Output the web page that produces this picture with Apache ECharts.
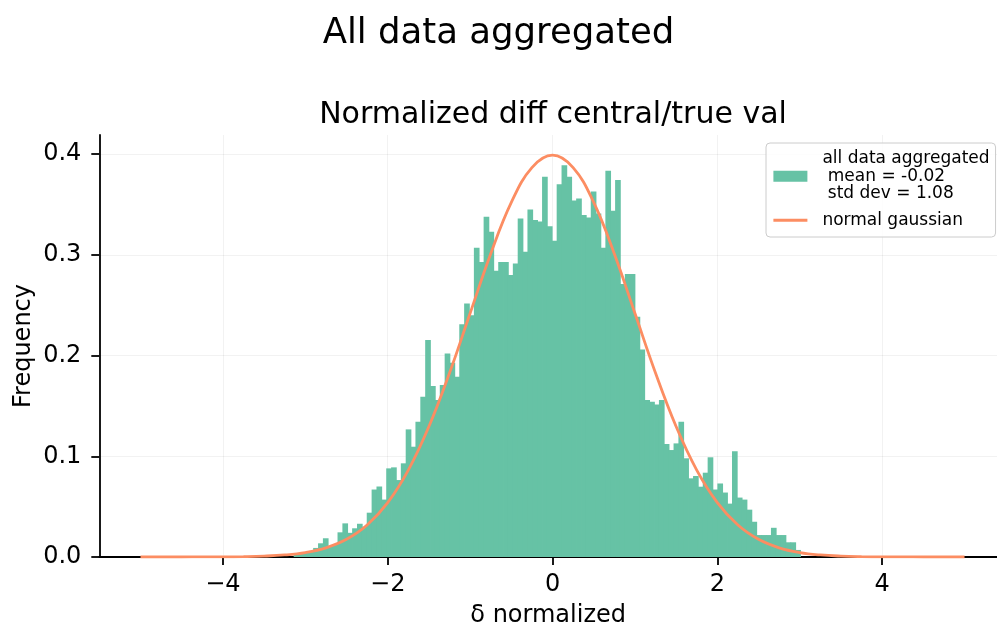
<!DOCTYPE html>
<html>
<head>
<meta charset="utf-8">
<script src="https://cdn.jsdelivr.net/npm/echarts@6/dist/echarts.min.js"></script>
<style>
html,body{margin:0;padding:0;background:#fff;overflow:hidden;width:997px;height:630px}
#chart{position:absolute;left:0;top:0;width:997px;height:630px}
</style>
</head>
<body>
<div id="chart"></div>
<script>
// ---- data ----
const binStart = -3.141;
const binWidth = 0.0591;
const freq = [
  0.002, 0.003, 0.004, 0.006, 0.009, 0.0136, 0.0186, 0.011, 0.012, 0.0245,
  0.0334, 0.024, 0.0285, 0.033, 0.030, 0.044, 0.067, 0.070, 0.057, 0.088,
  0.089, 0.0764, 0.093, 0.1267, 0.1095, 0.1343, 0.159, 0.2154, 0.1697, 0.1558,
  0.1707, 0.202, 0.1929, 0.179, 0.231, 0.2518, 0.240, 0.307, 0.293, 0.3378,
  0.3229, 0.2842, 0.293, 0.293, 0.280, 0.2915, 0.336, 0.303, 0.345, 0.3345,
  0.333, 0.3775, 0.3285, 0.314, 0.370, 0.389, 0.3775, 0.354, 0.356, 0.3395,
  0.337, 0.363, 0.341, 0.307, 0.3834, 0.3437, 0.3742, 0.271, 0.281, 0.281,
  0.2385, 0.2061, 0.1558, 0.1542, 0.1515, 0.1558, 0.1122, 0.1062, 0.1128, 0.1343,
  0.098, 0.0781, 0.0804, 0.0698, 0.0837, 0.099, 0.067, 0.073, 0.064, 0.053,
  0.105, 0.059, 0.057, 0.047, 0.035, 0.0218, 0.0218, 0.0218, 0.029, 0.0218,
  0.0218, 0.0146, 0.0146, 0.007
];
const gaussX = [-5, -4.75, -4.5, -4.25, -4, -3.75, -3.5, -3.25, -3, -2.75, -2.5, -2.25, -2, -1.75, -1.5, -1.25, -1, -0.75, -0.5, -0.25,
  0, 0.25, 0.5, 0.75, 1, 1.25, 1.5, 1.75, 2, 2.25, 2.5, 2.75, 3, 3.25, 3.5, 3.75, 4, 4.25, 4.5, 4.75, 5];
const gaussY = [0.0000015, 0.000005, 0.000016, 0.000047, 0.000134, 0.000353, 0.000873, 0.00203, 0.00443, 0.00909,
  0.01753, 0.03174, 0.05399, 0.08628, 0.12952, 0.18265, 0.24197, 0.30114, 0.35207, 0.38667,
  0.39894, 0.38667, 0.35207, 0.30114, 0.24197, 0.18265, 0.12952, 0.08628, 0.05399, 0.03174,
  0.01753, 0.00909, 0.00443, 0.00203, 0.000873, 0.000353, 0.000134, 0.000047, 0.000016, 0.000005, 0.0000015];
const xTicks = [-4, -2, 0, 2, 4];
const yTicks = [0, 0.1, 0.2, 0.3, 0.4];
const histName = 'all data aggregated\n mean = -0.02\n std dev = 1.08';
const lineName = 'normal gaussian';
const suptitle = 'All data aggregated';
const axTitle = 'Normalized diff central/true val';
const xName = 'δ normalized';
const yName = 'Frequency';

// ---- build ----
const FONT = 'DejaVu Sans';
const GREEN = '#66c2a5';
const ORANGE = '#fc8d62';

const histData = freq.map((f, i) => [binStart + i * binWidth, binStart + (i + 1) * binWidth, f]);
const gaussData = gaussX.map((x, i) => [x, gaussY[i]]);

const chart = echarts.init(document.getElementById('chart'), null, {renderer: 'canvas'});
chart.setOption({
  animation: false,
  backgroundColor: '#ffffff',
  textStyle: {fontFamily: FONT},
  title: [
    {text: suptitle, left: 'center', top: 8,
     textStyle: {fontFamily: FONT, fontSize: 35.5, fontWeight: 'normal', color: '#000', lineHeight: 42}},
    {text: axTitle, left: 548, textAlign: 'center', top: 93,
     textStyle: {fontFamily: FONT, fontSize: 30, fontWeight: 'normal', color: '#000', lineHeight: 35}}
  ],
  grid: {left: 99.3, top: 135, width: 897.7, height: 422, containLabel: false, outerBoundsMode: 'none'},
  xAxis: {
    type: 'value', min: -5.5, max: 5.394,
    name: xName, nameLocation: 'middle', nameGap: 47,
    nameTextStyle: {fontFamily: FONT, fontSize: 24, color: '#000'},
    axisLine: {onZero: false, lineStyle: {color: '#000', width: 1.8}},
    axisTick: {customValues: xTicks, length: 8, lineStyle: {color: '#000', width: 1.8}},
    axisLabel: {customValues: xTicks, fontFamily: FONT, fontSize: 24, color: '#000', margin: 16,
      formatter: v => (v < 0 ? '\u2212' + Math.abs(v) : String(v))},
    splitLine: {show: true, lineStyle: {color: 'rgba(0,0,0,0.05)', width: 1}}
  },
  yAxis: {
    type: 'value', min: 0, max: 0.419,
    name: yName, nameLocation: 'middle', nameGap: 64, nameRotate: 90, nameMoveOverlap: false,
    nameTextStyle: {fontFamily: FONT, fontSize: 24, color: '#000'},
    axisLine: {show: true, onZero: false, lineStyle: {color: '#000', width: 1.8}},
    axisTick: {show: true, customValues: yTicks, length: 8, lineStyle: {color: '#000', width: 1.8}},
    axisLabel: {customValues: yTicks, fontFamily: FONT, fontSize: 24, color: '#000', margin: 18,
      formatter: v => Number(v).toFixed(1)},
    splitLine: {show: true, lineStyle: {color: 'rgba(0,0,0,0.05)', width: 1}}
  },
  legend: {
    orient: 'vertical', left: 766, top: 143,
    padding: [7, 6, 8, 6],
    itemWidth: 34, itemHeight: 11, itemGap: 9,
    backgroundColor: 'rgba(255,255,255,0.8)', borderColor: '#cccccc', borderWidth: 1, borderRadius: 4,
    textStyle: {fontFamily: FONT, fontSize: 17, lineHeight: 17.5, color: '#000', padding: [0, 0, 0, 10]},
    data: [
      {name: histName, icon: 'rect'},
      {name: lineName, lineStyle: {width: 2.8, color: ORANGE},
       itemStyle: {color: 'rgba(0,0,0,0)', borderColor: 'rgba(0,0,0,0)', borderWidth: 0}}
    ]
  },
  series: [
    {
      type: 'custom', name: histName, data: histData, z: 2, silent: true,
      encode: {x: [0, 1], y: 2},
      itemStyle: {color: GREEN},
      renderItem: (params, api) => {
        const p0 = api.coord([api.value(0), api.value(2)]);
        const p1 = api.coord([api.value(1), 0]);
        return {type: 'rect',
          shape: {x: p0[0], y: p0[1], width: p1[0] - p0[0] + 0.8, height: p1[1] - p0[1]},
          style: {fill: GREEN}};
      }
    },
    {
      type: 'line', name: lineName, data: gaussData, smooth: 0.4, symbol: 'none', z: 5, silent: true,
      lineStyle: {color: ORANGE, width: 2.8}, itemStyle: {color: ORANGE}
    }
  ]
});
</script>
</body>
</html>
